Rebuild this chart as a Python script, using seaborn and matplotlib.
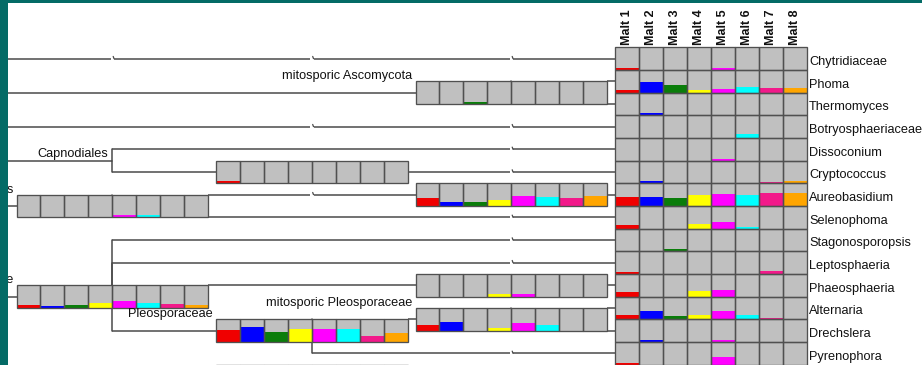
import matplotlib
matplotlib.use("Agg")
import matplotlib.pyplot as plt
from matplotlib.patches import Rectangle
import seaborn as sns
import numpy as np
import pandas as pd

# ---------------------------------------------------------------- data
samples = ["Malt 1", "Malt 2", "Malt 3", "Malt 4", "Malt 5", "Malt 6", "Malt 7", "Malt 8"]
sample_colors = ["#f00000", "#0000ff", "#0a7d0a", "#ffff00",
                 "#ff00ff", "#00ffff", "#f2198a", "#ffa500"]

leaf_taxa = ["Chytridiaceae", "Phoma", "Thermomyces", "Botryosphaeriaceae",
             "Dissoconium", "Cryptococcus", "Aureobasidium", "Selenophoma",
             "Stagonosporopsis", "Leptosphaeria", "Phaeosphaeria", "Alternaria",
             "Drechslera", "Pyrenophora"]

# assigned reads per sample, on a 0-23 scale (23 = a full cell)
chytridiaceae = [2, 0, 0, 0, 2, 0, 0, 0]
phoma = [2.5, 10.3, 7.3, 2.5, 4, 6, 4.5, 5]
thermomyces = [0, 2.5, 0, 0, 0, 0, 0, 0]
botryosphaeriaceae = [0, 0, 0, 0, 0, 4.5, 0, 0]
dissoconium = [0, 0, 0, 0, 2, 0, 0, 0]
cryptococcus = [0, 2, 0, 0, 0, 0, 1.5, 2.5]
aureobasidium = [9.3, 9.3, 8, 11.3, 12, 10.7, 13.3, 12.7]
selenophoma = [3.7, 0, 0, 4.5, 6.3, 2, 0, 0]
stagonosporopsis = [0, 0, 2, 0, 0, 0, 0, 0]
leptosphaeria = [2, 0, 0, 0, 0, 0, 3, 0]
phaeosphaeria = [4.7, 0, 0, 5.5, 6.7, 0, 0, 0]
alternaria = [4.7, 8, 3, 4, 8, 4.7, 1.5, 0]
drechslera = [0, 2, 0, 0, 2, 0, 0, 0]
pyrenophora = [2, 0, 0, 0, 7.3, 0, 0, 0]

# internal nodes of the taxonomy
mito_ascomycota = [0, 0, 2, 0, 0, 0, 0, 0]
tremellaceae = [2, 0, 0, 0, 0, 0, 0, 0]
dothideales = [0, 0, 0, 0, 2, 2, 0, 0]
dothioraceae = [8.3, 3.7, 4.3, 6.3, 9.7, 9.3, 8.3, 9.7]
pleosporomycetidae = [3, 2, 3.5, 5, 7.5, 5.5, 4, 3]
phaeosphaeriaceae = [0, 0, 0, 3, 3, 0, 0, 0]
pleosporaceae = [11.7, 15, 10, 13.3, 13, 13, 6.3, 9]
mito_pleosporaceae = [5.3, 9, 0, 3, 7.7, 5.3, 0, 0]
lower_clade = [0, 0, 0, 0, 0, 0, 0, 0]

leaf_values = [chytridiaceae, phoma, thermomyces, botryosphaeriaceae, dissoconium,
               cryptococcus, aureobasidium, selenophoma, stagonosporopsis,
               leptosphaeria, phaeosphaeria, alternaria, drechslera, pyrenophora]
leaf_df = pd.DataFrame(leaf_values, index=leaf_taxa, columns=samples)

# internal nodes: name -> (level, row, parent, shows label, values)
nodes = {
    "mitosporic Ascomycota": (2, 1.5, None, True, mito_ascomycota),
    "Capnodiales": (0, 4.5, None, True, None),
    "Tremellaceae": (1, 5, "Capnodiales", False, tremellaceae),
    "Dothideales": (0, 6.5, None, True, dothideales),
    "Dothioraceae": (2, 6, "Dothideales", False, dothioraceae),
    "Pleosporomycetidae": (0, 10.5, None, True, pleosporomycetidae),
    "Phaeosphaeriaceae": (2, 10, "Pleosporomycetidae", False, phaeosphaeriaceae),
    "Pleosporaceae": (1, 12, "Pleosporomycetidae", True, pleosporaceae),
    "mitosporic Pleosporaceae": (2, 11.5, "Pleosporaceae", True, mito_pleosporaceae),
    "lower clade": (1, 14, None, False, lower_clade),
}
leaf_parent = {
    "Chytridiaceae": None, "Phoma": "mitosporic Ascomycota",
    "Thermomyces": "mitosporic Ascomycota", "Botryosphaeriaceae": None,
    "Dissoconium": "Capnodiales", "Cryptococcus": "Tremellaceae",
    "Aureobasidium": "Dothioraceae", "Selenophoma": "Dothideales",
    "Stagonosporopsis": "Pleosporomycetidae", "Leptosphaeria": "Pleosporomycetidae",
    "Phaeosphaeria": "Phaeosphaeriaceae", "Alternaria": "mitosporic Pleosporaceae",
    "Drechslera": "mitosporic Pleosporaceae", "Pyrenophora": "Pleosporaceae",
}
# levels at which an edge is drawn with a break mark
edge_breaks = {
    "Chytridiaceae": [0, 1, 2], "Botryosphaeriaceae": [1, 2],
    "Cryptococcus": [2], "Dothioraceae": [1], "Selenophoma": [2],
    "Stagonosporopsis": [2], "Leptosphaeria": [2], "Dissoconium": [2],
    "Pyrenophora": [2],
}

# ---------------------------------------------------------------- layout
W, H = 922, 365
ROW0, ROW_H = 47.3, 22.67
CELL_W = 23.95
BOX_W = 8 * CELL_W
LEVEL_X0, LEVEL_DX = 16.5, 199.5
FULL = 23.0
ROOT_X = -20

EDGE_C = "#4a4a4a"
CELL_EDGE = "#505050"
CELL_FILL = "#c0c0c0"
TEAL = "#046b66"

sns.set_theme(style="white")
plt.rcParams["font.family"] = ["Liberation Sans", "DejaVu Sans"]

fig = plt.figure(figsize=(W / 100, H / 100), dpi=100)
ax = fig.add_axes([0, 0, 1, 1])
ax.set_xlim(0, W)
ax.set_ylim(H, 0)
ax.axis("off")


def row_y(r):
    return ROW0 + ROW_H * (r + 0.5)


def box_left(level):
    return LEVEL_X0 + LEVEL_DX * level


def center_x(level):
    return box_left(level) + BOX_W / 2


def hline(x0, x1, y, breaks):
    pts = [x0]
    for lv in breaks:
        xb = center_x(lv)
        if x0 < xb < x1:
            pts += [xb - 1.7, xb + 1.7]
    pts.append(x1)
    for a, b in zip(pts[0::2], pts[1::2]):
        ax.plot([a, b], [y, y], color=EDGE_C, lw=1.1, zorder=1,
                solid_capstyle="butt")
    for lv in breaks:
        xb = center_x(lv)
        if x0 < xb < x1:
            ax.plot([xb + 1.7, xb + 0.9], [y, y - 2.2], color=EDGE_C,
                    lw=0.9, zorder=1)


def draw_edge(parent, xc, yc, breaks):
    if parent is None:
        hline(ROOT_X, xc, yc, breaks)
        return
    lv, r, _, _, vals = nodes[parent]
    xp, yp = center_x(lv), row_y(r)
    ax.plot([xp, xp], [yp, yc], color=EDGE_C, lw=1.1, zorder=1)
    x_start = xp
    # a child level with the parent's box starts at the box's right side
    if vals is not None and abs(yc - yp) <= ROW_H / 2 + 0.5:
        x_start = box_left(lv) + BOX_W
    hline(x_start, xc, yc, breaks)


def draw_box(left, yc, vals):
    lefts = left + CELL_W * np.arange(8)
    bottom = yc + ROW_H / 2
    ax.bar(lefts, -ROW_H, width=CELL_W, bottom=bottom, align="edge",
           color=CELL_FILL, linewidth=0, zorder=3)
    if vals is not None:
        heights = -np.asarray(vals, float) / FULL * ROW_H
        ax.bar(lefts, heights, width=CELL_W, bottom=bottom, align="edge",
               color=sample_colors, linewidth=0, zorder=4)
    ax.bar(lefts, -ROW_H, width=CELL_W, bottom=bottom, align="edge",
           fill=False, edgecolor=CELL_EDGE, linewidth=0.95, zorder=5)


# edges to leaves
for i, taxon in enumerate(leaf_taxa):
    draw_edge(leaf_parent[taxon], box_left(3), row_y(i),
              edge_breaks.get(taxon, []))

# edges to internal nodes
for name, (lv, r, parent, show, vals) in nodes.items():
    draw_edge(parent, center_x(lv), row_y(r), edge_breaks.get(name, []))

# node boxes with their per-sample bars
for name, (lv, r, parent, show, vals) in nodes.items():
    if vals is not None:
        draw_box(box_left(lv), row_y(r), vals)
    if show:
        if vals is not None:
            ax.text(box_left(lv) - 3.3, row_y(r) - ROW_H / 2 - 2, name,
                    ha="right", va="baseline", fontsize=9.2, color="#111111",
                    zorder=6)
        else:
            ax.text(center_x(lv) - 4, row_y(r) - 3.5, name,
                    ha="right", va="baseline", fontsize=9.2, color="#111111",
                    zorder=6)

# leaf grid
for i, taxon in enumerate(leaf_taxa):
    draw_box(box_left(3), row_y(i), leaf_df.loc[taxon].values)
    ax.text(box_left(3) + BOX_W + 2.5, row_y(i) + 6.3, taxon, ha="left",
            va="baseline", fontsize=9.2, color="#111111", zorder=6)

# sample headers
for j, s in enumerate(samples):
    ax.text(box_left(3) + CELL_W * (j + 0.5), 45, s, rotation=90, ha="center",
            va="bottom", fontsize=9, fontweight="bold", color="#111111")

# window frame
ax.add_patch(Rectangle((0, 0), 8, H, color=TEAL, zorder=10, lw=0))
ax.add_patch(Rectangle((0, 0), W, 3, color=TEAL, zorder=10, lw=0))

fig.savefig("out.png", dpi=100)
